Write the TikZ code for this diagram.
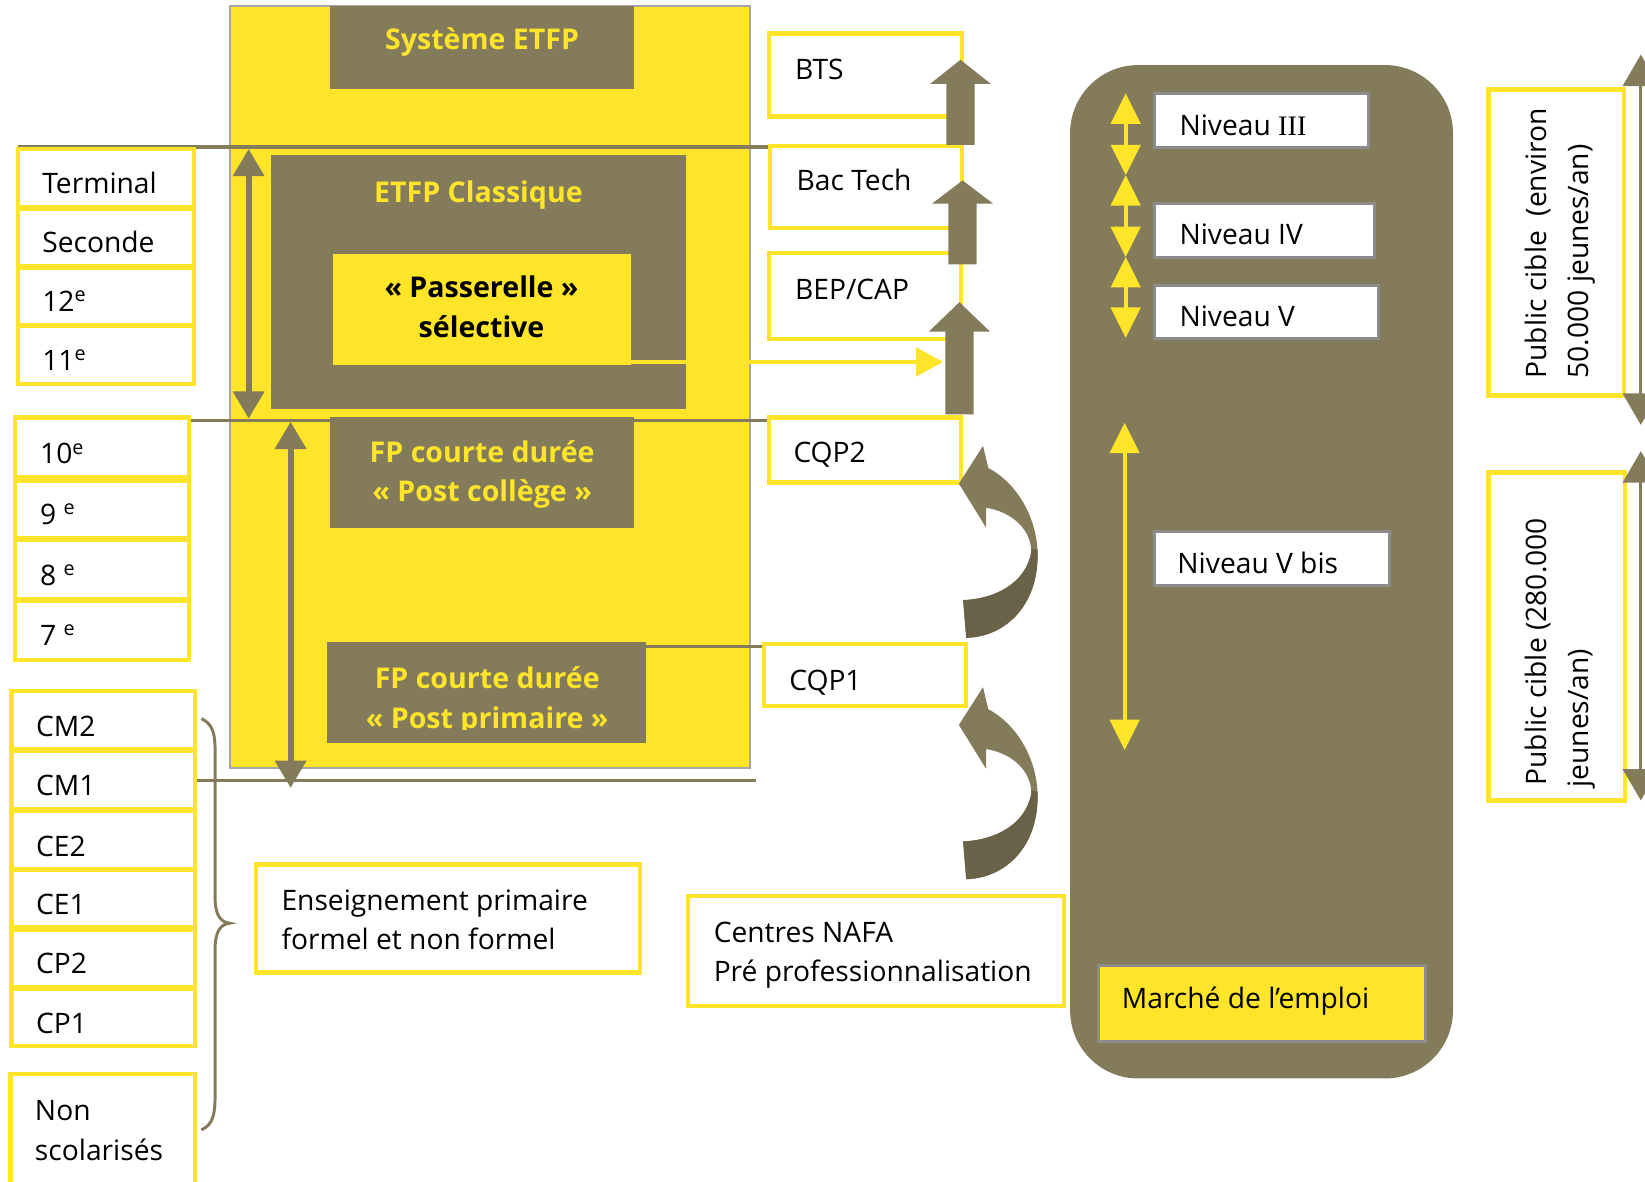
\documentclass[tikz,border=0pt]{standalone}
\usepackage{fontspec}
\setmainfont{Open Sans}
\newfontfamily\serf{Liberation Serif}
\usetikzlibrary{fit,arrows.meta}
\definecolor{ylw}{RGB}{255,229,41}
\definecolor{brn}{RGB}{132,123,91}
\definecolor{dbrn}{RGB}{105,97,72}
\definecolor{gry}{RGB}{165,165,165}
\definecolor{gry2}{RGB}{140,140,140}
\newcommand\upblock[4]{% center x, tip y, head base y, bottom y
  \fill[brn] (#1-13.5,#4) -- (#1-13.5,#3) -- (#1-29,#3) -- (#1,#2) -- (#1+29,#3) -- (#1+13.5,#3) -- (#1+13.5,#4) -- cycle;}
\newcommand\curvarr[1]{%
  \begin{scope}[shift={(0,#1)}]
  \fill[brn] (914,461) -- (937,425) -- (942,446) .. controls (972,462) and (990,498) .. (989,532) .. controls (988,578) and (958,607) .. (921,608) -- (918,572) .. controls (948,571) and (978,556) .. (983,526) .. controls (983,505) and (965,488) .. (940,484) -- (940,503) -- cycle;
  \begin{scope}
  \clip (890,524) rectangle (1000,620);
  \fill[dbrn] (914,461) -- (937,425) -- (942,446) .. controls (972,462) and (990,498) .. (989,532) .. controls (988,578) and (958,607) .. (921,608) -- (918,572) .. controls (948,571) and (978,556) .. (983,526) .. controls (983,505) and (965,488) .. (940,484) -- (940,503) -- cycle;
  \end{scope}
  \end{scope}}
\tikzset{
  ybox/.style={draw=ylw, line width=2.3pt, fill=white, inner sep=0pt},
  dbox/.style={fill=brn, inner sep=0pt},
  nbox/.style={draw=gry2, line width=1.6pt, fill=white, inner sep=0pt},
  lbl/.style={font=\fontsize{15.3}{18}\selectfont, inner sep=0pt, anchor=base west},
  ttl/.style={font=\bfseries\fontsize{15.5}{18}\selectfont, text=ylw, inner sep=0pt, anchor=base},
  gline/.style={draw=brn, line width=1.9pt},
  darr/.style={brn, line width=3.2pt, {Triangle[width=0.58cm,length=0.52cm]}-{Triangle[width=0.58cm,length=0.52cm]}},
  yarr/.style={ylw, line width=2pt, {Triangle[width=0.56cm,length=0.58cm]}-{Triangle[width=0.56cm,length=0.58cm]}},
  rarr/.style={brn, line width=1.8pt, {Triangle[width=0.68cm,length=0.6cm]}-{Triangle[width=0.68cm,length=0.6cm]}}
}
\begin{document}
\begin{tikzpicture}[x=0.02cm,y=-0.02cm]
\useasboundingbox (0,0) rectangle (1568,1126);
% big ETFP system box
\node[fill=ylw, draw=gry, line width=1.1pt, inner sep=0pt, fit={(219,6)(715,732)}] (etfp) {};
% separator lines
\coordinate (l1a) at (17,140); \coordinate (l1b) at (734,140);
\coordinate (l2a) at (180,401); \coordinate (l2b) at (734,401);
\coordinate (l3a) at (616,616); \coordinate (l3b) at (730,616);
\coordinate (l4a) at (186,744); \coordinate (l4b) at (721,744);
\draw[gline] (l1a) -- (l1b);
\draw[gline] (l2a) -- (l2b);
\draw[gline] (l3a) -- (l3b);
\draw[gline] (l4a) -- (l4b);
% dark boxes
\node[dbox, fit={(315,6)(604,85)}] (sys) {};
\node[ttl] (tsys) at (459.5,47.5) {Système ETFP};
\node[dbox, fit={(258,148)(654,390)}] (classique) {};
\node[ttl] (tcla) at (456,193) {ETFP Classique};
\node[fill=ylw, inner sep=0pt, fit={(317,242)(601,348)}] (pass) {};
\node[ttl, text=black] (tpa1) at (459,284) {«~Passerelle~»};
\node[ttl, text=black] (tpa2) at (459,322) {sélective};
\node[dbox, fit={(315,397)(604,503)}] (college) {};
\node[ttl] (tco1) at (459.6,441) {FP courte durée};
\node[ttl] (tco2) at (459.6,478) {«~Post collège~»};
\node[dbox, fit={(312,612)(616,708)}] (primaire) {};
\node[ttl] (tpr1) at (464.4,656) {FP courte durée};
\begin{scope}
\clip (312,612) rectangle (616,695);
\node[ttl] (tpr2) at (464.4,694) {«~Post primaire~»};
\end{scope}
% yellow arrow from passerelle
\coordinate (ya) at (601,345); \coordinate (yb) at (899,345);
\draw[ylw, line width=2.5pt, -{Triangle[width=0.54cm,length=0.52cm]}] (ya) -- (yb);
% vertical double arrows
\coordinate (v1a) at (237,142); \coordinate (v1b) at (237,399);
\coordinate (v2a) at (277,402); \coordinate (v2b) at (277,751);
\draw[darr] (v1a) -- (v1b);
\draw[darr] (v2a) -- (v2b);
% left column
\node[ybox, fit={(17,142)(185,197)}] (terminal) {};
\node[ybox, fit={(17,199)(185,254)}] (seconde) {};
\node[ybox, fit={(17,255)(185,310)}] (g12) {};
\node[ybox, fit={(17,311)(185,366)}] (g11) {};
\node[lbl] at (40,184) {Terminal};
\node[lbl] at (40,241) {Seconde};
\node[lbl] at (40,297) {12\textsuperscript{e}};
\node[lbl] at (40,353) {11\textsuperscript{e}};
\node[ybox, fit={(14,398)(180,455)}] (g10) {};
\node[ybox, fit={(14,458)(180,513)}] (g9) {};
\node[ybox, fit={(14,515)(180,571)}] (g8) {};
\node[ybox, fit={(14,573)(180,629)}] (g7) {};
\node[lbl] at (38,442) {10\textsuperscript{e}};
\node[lbl] at (38,500) {9 \textsuperscript{e}};
\node[lbl] at (38,558) {8 \textsuperscript{e}};
\node[lbl] at (38,615) {7 \textsuperscript{e}};
\node[ybox, fit={(11,659)(186,714)}] (cm2) {};
\node[ybox, fit={(11,716)(186,771)}] (cm1) {};
\node[ybox, fit={(11,773)(186,828)}] (ce2) {};
\node[ybox, fit={(11,829)(186,884)}] (ce1) {};
\node[ybox, fit={(11,886)(186,941)}] (cp2) {};
\node[ybox, fit={(11,943)(186,997)}] (cp1) {};
\node[lbl] at (34,702) {CM2};
\node[lbl] at (34,758) {CM1};
\node[lbl] at (34,816) {CE2};
\node[lbl] at (34,872) {CE1};
\node[lbl] at (34,928) {CP2};
\node[lbl] at (34,985) {CP1};
\node[ybox, fit={(10,1024)(186,1150)}] (nonsco) {};
\node[lbl] at (33,1068) {Non};
\node[lbl] at (33,1106) {scolarisés};
% brace
\draw[brn, line width=1.6pt] (192,685) .. controls (203,690) and (205,700) .. (205,715) -- (205,855) .. controls (205,872) and (210,879) .. (219,880) .. controls (210,881) and (205,888) .. (205,905) -- (205,1045) .. controls (205,1062) and (203,1072) .. (192,1077);
% lower boxes
\node[ybox, fit={(244,824)(610,927)}] (ens) {};
\node[lbl] at (268,867.5) {Enseignement primaire};
\node[lbl] at (268,905.5) {formel et non formel};
\node[ybox, fit={(656,854)(1014,959)}] (nafa) {};
\node[lbl] at (680,898) {Centres NAFA};
\node[lbl] at (680,936) {Pré professionnalisation};
% diploma boxes
\node[ybox, fit={(733,32)(917,111)}] (bts) {};
\node[ybox, fit={(734,139)(917,217)}] (bac) {};
\node[ybox, fit={(733,241)(916,323)}] (bep) {};
\node[ybox, fit={(733,398)(916,460)}] (cqp2) {};
\node[ybox, fit={(728,614)(921,673)}] (cqp1) {};
\node[lbl] at (757.5,75.3) {BTS};
\node[lbl] at (759,182) {Bac Tech};
\node[lbl] at (757.5,285) {BEP/CAP};
\node[lbl] at (756,441) {CQP2};
\node[lbl] at (752,658.5) {CQP1};
% block arrows
\upblock{915.5}{57}{80}{138}
\upblock{917.5}{172}{194}{252}
\upblock{914.5}{288}{316}{395}
% curved arrows
\curvarr{0}
\curvarr{230}
% labour market panel
\node[fill=brn, rounded corners=1.3cm, inner sep=0pt, fit={(1020,62)(1385,1028)}] (marche) {};
\node[nbox, fit={(1100,89)(1304,141)}] (n3) {};
\node[nbox, fit={(1100,194)(1310,245)}] (n4) {};
\node[nbox, fit={(1100,272)(1314,323)}] (n5) {};
\node[nbox, fit={(1100,507)(1324,558)}] (n5b) {};
\node[lbl] at (1124,128.7) {Niveau {\serf III}};
\node[lbl] at (1124,232.6) {Niveau IV};
\node[lbl] at (1124,311) {Niveau V};
\node[lbl] at (1122,546.5) {Niveau V bis};
\node[fill=ylw, draw=gry2, line width=1.5pt, inner sep=0pt, fit={(1047,920)(1359,993)}] (emploi) {};
\node[lbl] at (1069,961) {Marché de l’emploi};
\coordinate (y1) at (1073,89); \coordinate (y2) at (1073,167);
\coordinate (y3) at (1073,245); \coordinate (y4) at (1073,322);
\coordinate (y5) at (1072,403); \coordinate (y6) at (1072,715);
\draw[yarr] (y1) -- (y2);
\draw[yarr] (y2) -- (y3);
\draw[yarr] (y3) -- (y4);
\draw[yarr] (y5) -- (y6);
% target public
\node[ybox, line width=2.6pt, fit={(1419,85)(1548,377)}] (pub1) {};
\node[ybox, line width=2.6pt, fit={(1419,450)(1549,763)}] (pub2) {};
\node[lbl, rotate=90] at (1474,361) {Public cible~~(environ};
\node[lbl, rotate=90] at (1514,361) {50.000 jeunes/an)};
\node[lbl, rotate=90] at (1474,749) {Public cible (280.000};
\node[lbl, rotate=90] at (1514,751) {jeunes/an)};
\coordinate (r1) at (1564,52); \coordinate (r2) at (1564,405);
\coordinate (r3) at (1564,430); \coordinate (r4) at (1564,763);
\draw[rarr] (r1) -- (r2);
\draw[rarr] (r3) -- (r4);
\end{tikzpicture}
\end{document}
